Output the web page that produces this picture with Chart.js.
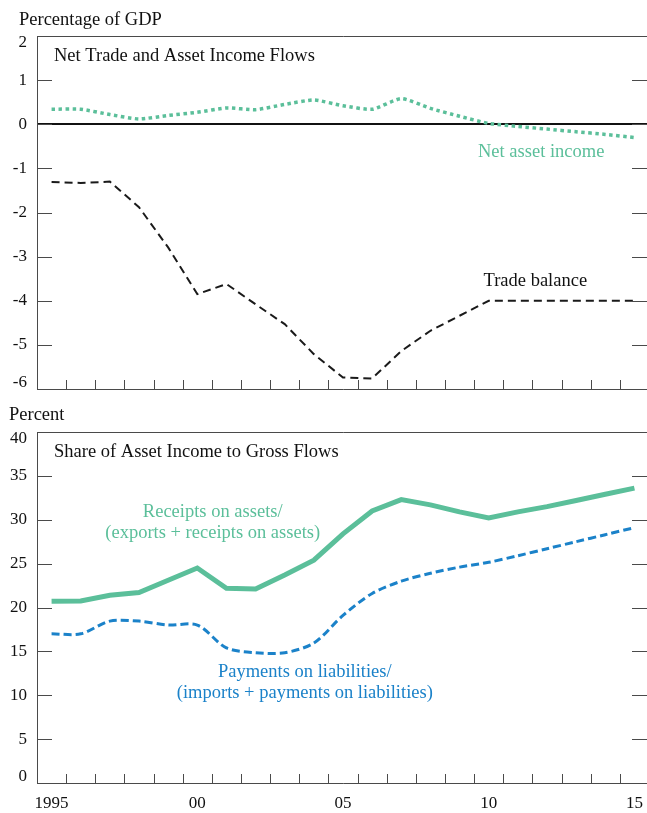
<!DOCTYPE html>
<html>
<head>
<meta charset="utf-8">
<script src="https://cdn.jsdelivr.net/npm/chart.js"></script>
<style>
html, body { margin: 0; padding: 0; background: #fff; overflow: hidden; width: 647px; height: 813px; }
.panel { position: absolute; left: 0; width: 647px; overflow: hidden; }
#top { top: 0; height: 400px; }
#bottom { top: 400px; height: 413px; }
canvas { display: block; }
</style>
</head>
<body>
<div class="panel" id="top"><canvas id="topChart" width="660" height="400"></canvas></div>
<div class="panel" id="bottom"><canvas id="bottomChart" width="660" height="413"></canvas></div>
<script>
// data
const years = ['1995','1996','1997','1998','1999','2000','2001','2002','2003','2004','2005',
               '2006','2007','2008','2009','2010','2011','2012','2013','2014','2015'];
const yearTickLabels = ['1995','','','','','00','','','','','05','','','','','10','','','','','15'];

const netAssetIncome = [0.34, 0.34, 0.22, 0.12, 0.20, 0.27, 0.37, 0.33, 0.45, 0.55, 0.42,
                        0.34, 0.58, 0.36, 0.18, 0.02, -0.05, -0.11, -0.17, -0.23, -0.30];
const tradeBalance = [-1.31, -1.33, -1.30, -1.88, -2.79, -3.85, -3.62, -4.08, -4.53, -5.21, -5.74,
                      -5.76, -5.14, -4.68, -4.34, -4.00, -4.00, -4.00, -4.00, -4.00, -4.00];
const receiptsShare = [20.7, 20.75, 21.4, 21.7, 23.1, 24.5, 22.2, 22.1, 23.7, 25.4, 28.4,
                       31.0, 32.3, 31.7, 30.9, 30.2, 30.9, 31.5, 32.2, 32.9, 33.6];
const paymentsShare = [17.0, 17.0, 18.45, 18.45, 18.0, 18.0, 15.4, 14.85, 14.85, 15.95, 19.1,
                       21.6, 23.0, 23.9, 24.6, 25.15, 25.9, 26.7, 27.5, 28.3, 29.1];

const GREEN = '#5bbf9a';
const BLUE = '#1b82c9';
const FONT = "'Liberation Serif', 'Times New Roman', serif";

// frame, inward ticks, zero line, y labels and the text notes
function makeDecor(cfg) {
  return {
    id: 'decor',
    beforeDatasetsDraw(chart) {
      const {ctx, chartArea: a, scales: {y}} = chart;
      if (!cfg.zeroLine) return;
      ctx.save();
      const py = Math.round(y.getPixelForValue(0));
      ctx.strokeStyle = '#111';
      ctx.lineWidth = 2;
      ctx.beginPath();
      ctx.moveTo(a.left, py);
      ctx.lineTo(a.right, py);
      ctx.stroke();
      ctx.restore();
    },
    afterDraw(chart) {
      const {ctx, chartArea: a, scales: {x, y}} = chart;
      ctx.save();
      // clear the strip at the cut-off right edge, then draw the frame on top
      ctx.fillStyle = '#fff';
      ctx.fillRect(a.right - 4, a.top, 20, a.bottom - a.top + 2);
      if (cfg.zeroLine) {
        const pz = Math.round(y.getPixelForValue(0));
        ctx.strokeStyle = '#111';
        ctx.lineWidth = 2;
        ctx.beginPath();
        ctx.moveTo(a.right - 5, pz);
        ctx.lineTo(a.right, pz);
        ctx.stroke();
      }

      ctx.strokeStyle = '#4a4a4a';
      ctx.lineWidth = 1;
      ctx.beginPath();
      ctx.moveTo(a.left + 0.5, a.top + 0.5);
      ctx.lineTo(a.right, a.top + 0.5);
      ctx.moveTo(a.left + 0.5, a.top);
      ctx.lineTo(a.left + 0.5, a.bottom + 0.5);
      ctx.lineTo(a.right, a.bottom + 0.5);
      ctx.stroke();

      ctx.beginPath();
      y.ticks.forEach(t => {
        const py = Math.round(y.getPixelForValue(t.value)) + 0.5;
        ctx.moveTo(a.left, py); ctx.lineTo(a.left + 15, py);
        ctx.moveTo(a.right - 17, py); ctx.lineTo(a.right, py);
      });
      ctx.stroke();

      ctx.beginPath();
      for (let i = 1; i < x.ticks.length; i++) {
        const px = Math.round((x.getPixelForTick(i - 1) + x.getPixelForTick(i)) / 2) + 0.5;
        ctx.moveTo(px, a.bottom); ctx.lineTo(px, a.bottom - 9);
      }
      ctx.stroke();

      ctx.font = '17px ' + FONT;
      ctx.fillStyle = '#111';
      ctx.textAlign = 'right';
      ctx.textBaseline = 'middle';
      y.ticks.forEach(t => {
        let py = y.getPixelForValue(t.value);
        py = Math.min(Math.max(py, a.top + 7), a.bottom - 6);
        ctx.fillText(String(t.value), a.left - 10, py);
      });

      ctx.font = '18.5px ' + FONT;
      ctx.textAlign = 'left';
      ctx.fillText(cfg.unit, cfg.unitX, a.top - cfg.unitDy);
      ctx.fillText(cfg.title, a.left + 17, a.top + 20);

      ctx.textAlign = 'center';
      cfg.notes.forEach(n => {
        ctx.fillStyle = n.color;
        ctx.fillText(n.text, x.getPixelForValue(n.x), y.getPixelForValue(n.y));
      });
      ctx.restore();
    }
  };
}

function yScale(min, max, step) {
  return {
    min: min, max: max,
    afterFit: s => { s.width = 37; },
    ticks: { stepSize: step, display: false },
    border: { display: false },
    grid: { display: false, drawTicks: false }
  };
}

new Chart(document.getElementById('topChart'), {
  type: 'line',
  data: {
    labels: years,
    datasets: [{
      label: 'Net asset income',
      data: netAssetIncome,
      borderColor: GREEN,
      borderWidth: 3.5,
      borderDash: [3.5, 3.5],
      pointRadius: 0,
      tension: 0.2,
      fill: false
    }, {
      label: 'Trade balance',
      data: tradeBalance,
      borderColor: '#1a1a1a',
      borderWidth: 2,
      borderDash: [8, 5],
      pointRadius: 0,
      tension: 0,
      fill: false
    }]
  },
  options: {
    responsive: false,
    animation: false,
    layout: { padding: { top: 36, right: 11, bottom: 11, left: 0 } },
    plugins: { legend: { display: false }, tooltip: { enabled: false } },
    scales: {
      x: {
        offset: true,
        afterFit: s => { s.height = 0; },
        ticks: { display: false },
        border: { display: false },
        grid: { display: false, drawTicks: false, offset: true }
      },
      y: yScale(-6, 2, 1)
    }
  },
  plugins: [makeDecor({
    unit: 'Percentage of GDP', unitX: 19, unitDy: 16, zeroLine: true,
    title: 'Net Trade and Asset Income Flows',
    notes: [
      { text: 'Net asset income', x: 16.8, y: -0.64, color: GREEN },
      { text: 'Trade balance', x: 16.6, y: -3.55, color: '#111' }
    ]
  })]
});

new Chart(document.getElementById('bottomChart'), {
  type: 'line',
  data: {
    labels: years,
    datasets: [{
      label: 'Receipts on assets/(exports + receipts on assets)',
      data: receiptsShare,
      borderColor: GREEN,
      borderWidth: 5,
      pointRadius: 0,
      tension: 0,
      fill: false
    }, {
      label: 'Payments on liabilities/(imports + payments on liabilities)',
      data: paymentsShare,
      borderColor: BLUE,
      borderWidth: 3,
      borderDash: [8, 4],
      pointRadius: 0,
      tension: 0.3,
      fill: false
    }]
  },
  options: {
    responsive: false,
    animation: false,
    layout: { padding: { top: 32, right: 11, bottom: 0, left: 0 } },
    plugins: { legend: { display: false }, tooltip: { enabled: false } },
    scales: {
      x: {
        offset: true,
        afterFit: s => { s.height = 30; },
        ticks: {
          autoSkip: false,
          maxRotation: 0,
          padding: 10,
          color: '#111',
          font: { family: FONT, size: 17 },
          callback: (v, i) => yearTickLabels[i]
        },
        border: { display: false },
        grid: { display: false, drawTicks: false, offset: true }
      },
      y: yScale(0, 40, 5)
    }
  },
  plugins: [makeDecor({
    unit: 'Percent', unitX: 9, unitDy: 17, zeroLine: false,
    title: 'Share of Asset Income to Gross Flows',
    notes: [
      { text: 'Receipts on assets/', x: 5.53, y: 30.9, color: GREEN },
      { text: '(exports + receipts on assets)', x: 5.53, y: 28.5, color: GREEN },
      { text: 'Payments on liabilities/', x: 8.69, y: 12.6, color: BLUE },
      { text: '(imports + payments on liabilities)', x: 8.69, y: 10.2, color: BLUE }
    ]
  })]
});
</script>
</body>
</html>
